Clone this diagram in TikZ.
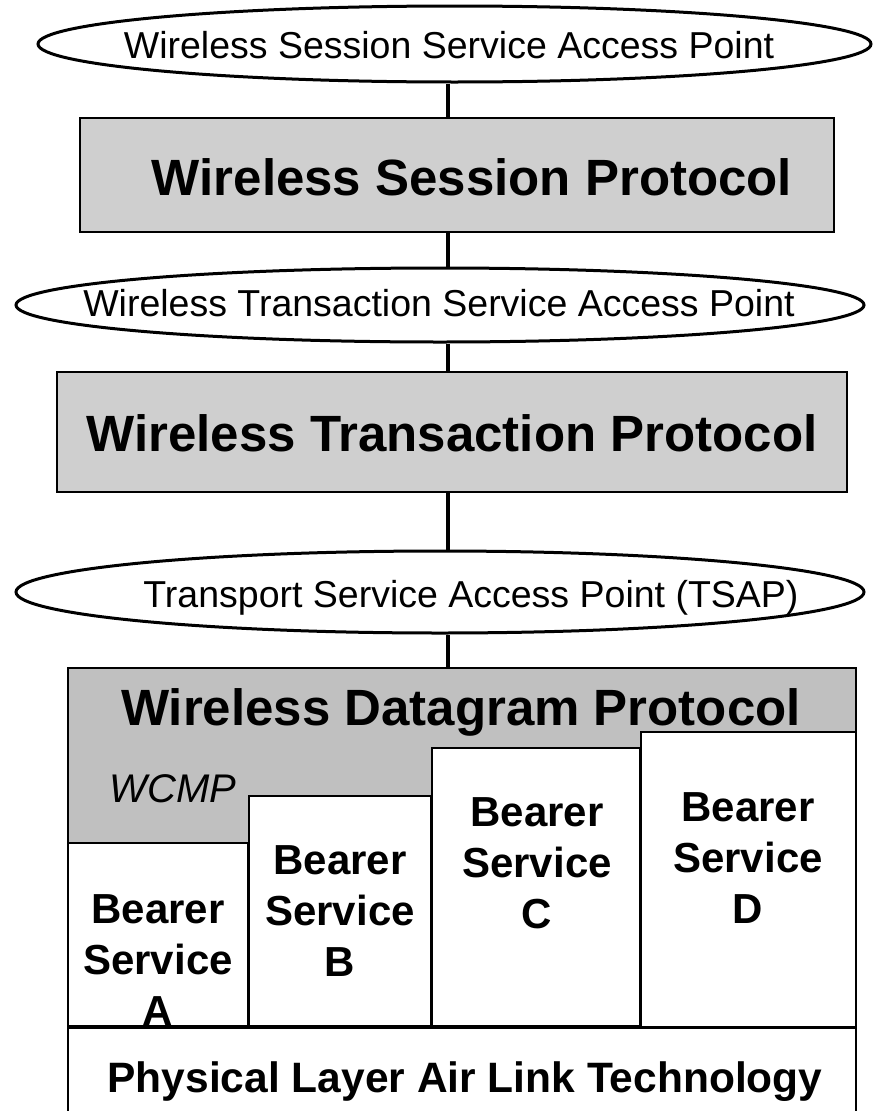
\documentclass[tikz,border=0pt]{standalone}
\usepackage{fontspec}
\setmainfont{Liberation Sans}
\usetikzlibrary{shapes.geometric}
\definecolor{layergray}{HTML}{CFCFCF}
\definecolor{wdpgray}{HTML}{C0C0C0}
\begin{document}
\begin{tikzpicture}[x=1pt,y=-1pt,
  sap/.style={draw, ellipse, line width=3pt, inner sep=0pt, fill=white},
  saptext/.style={font=\fontsize{37.5}{44}\selectfont, inner sep=0pt, anchor=base},
  layer/.style={draw, line width=2.5pt, inner sep=0pt},
  bigtext/.style={font=\bfseries\fontsize{51}{60}\selectfont, inner sep=0pt, anchor=base},
  bearertext/.style={font=\bfseries\fontsize{42}{51}\selectfont, inner sep=0pt, align=center},
  conn/.style={line width=4pt}
]
\useasboundingbox (0,0) rectangle (874,1111);
\coordinate (axis) at (448,0);

% service access points
\node[sap, minimum width=833, minimum height=76] (e1) at (454.5,44) {};
\node[saptext] (t1) at (449,58) {Wireless Session Service Access Point};
\node[sap, minimum width=848, minimum height=74] (e2) at (440,305) {};
\node[saptext] (t2) at (439,316) {Wireless Transaction Service Access Point};
\node[sap, minimum width=848, minimum height=82] (e3) at (440,592) {};
\node[saptext] (t3) at (471,607) {Transport Service Access Point (TSAP)};

% protocol layers
\node[layer, fill=layergray, minimum width=754, minimum height=114] (wsp) at (457,175) {};
\node[bigtext] (wspt) at (472,195) {Wireless Session Protocol};
\node[layer, fill=layergray, minimum width=790, minimum height=120] (wtp) at (452,432) {};
\node[bigtext] (wtpt) at (452,451) {Wireless Transaction Protocol};
\node[layer, fill=wdpgray, minimum width=788, minimum height=360] (wdp) at (462,848) {};
\node[bigtext] (wdpt) at (461,725) {Wireless Datagram Protocol};
\node[font=\itshape\fontsize{40}{48}\selectfont, inner sep=0pt, anchor=base] (wcmp) at (173,802) {WCMP};

% bearer services
\node[layer, fill=white, minimum width=180, minimum height=183] (ba) at (158,934.5) {};
\node[layer, fill=white, minimum width=182, minimum height=230] (bb) at (340,911) {};
\node[layer, fill=white, minimum width=208, minimum height=278] (bc) at (536,887) {};
\node[layer, fill=white, minimum width=215, minimum height=295] (bd) at (748.5,879.5) {};
\node[bearertext] (bat) at (158,960) {Bearer\\Service\\A};
\node[bearertext] (bbt) at (340,911) {Bearer\\Service\\B};
\node[bearertext] (bct) at (537,863) {Bearer\\Service\\C};
\node[bearertext] (bdt) at (748,858) {Bearer\\Service\\D};

% physical layer
\node[layer, fill=white, minimum width=788, minimum height=92] (phy) at (462,1074) {};
\node[font=\bfseries\fontsize{42.5}{51}\selectfont, inner sep=0pt, anchor=base] (phyt) at (465,1092) {Physical Layer Air Link Technology};

% connectors
\draw[conn] (e1.south -| axis) -- (wsp.north -| axis);
\draw[conn] (wsp.south -| axis) -- (e2.north -| axis);
\draw[conn] (e2.south -| axis) -- (wtp.north -| axis);
\draw[conn] (wtp.south -| axis) -- (e3.north -| axis);
\draw[conn] (e3.south -| axis) -- (wdp.north -| axis);
\end{tikzpicture}
\end{document}
